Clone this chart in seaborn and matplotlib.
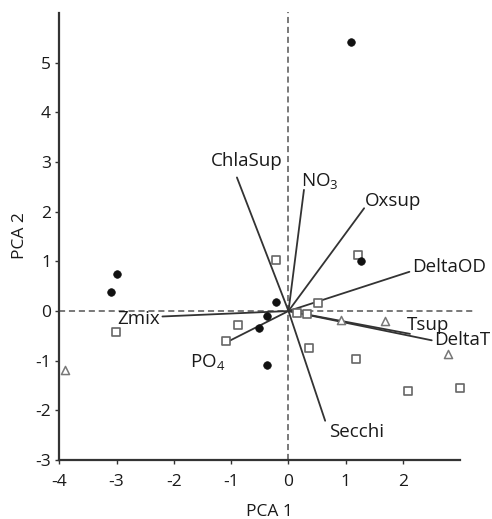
import numpy as np
import pandas as pd
import seaborn as sns
import matplotlib.pyplot as plt

# sample scores
circle_x = [1.09, 1.27, -0.21, -0.38, -0.52, -0.38, -2.99, -3.10]
circle_y = [5.42, 1.00, 0.19, -0.10, -0.34, -1.09, 0.75, 0.39]

square_x = [-0.21, 1.22, 0.52, 0.14, 0.33, 0.35, 1.18, 2.08, 3.00, -3.01, -0.88, -1.09]
square_y = [1.03, 1.12, 0.17, -0.04, -0.07, -0.74, -0.97, -1.62, -1.55, -0.42, -0.28, -0.60]

tri_x = [-3.90, 0.91, 1.69, 2.79]
tri_y = [-1.19, -0.19, -0.20, -0.87]

# variable loadings (arrow tips)
var_names = ['ChlaSup', 'NO$_3$', 'Oxsup', 'DeltaOD', 'Tsup', 'DeltaT', 'Secchi', 'Zmix', 'PO$_4$']
var_x = [-0.90, 0.27, 1.32, 2.11, 2.12, 2.50, 0.64, -2.20, -1.15]
var_y = [2.69, 2.44, 2.07, 0.79, -0.46, -0.59, -2.21, -0.11, -0.67]

# label placement: (dx px, dy px, ha, va)
label_pos = {
    'ChlaSup': (10, 7, 'center', 'bottom'),
    'NO$_3$': (-3, -1, 'left', 'bottom'),
    'Oxsup': (1, -2, 'left', 'bottom'),
    'DeltaOD': (3, 5, 'left', 'center'),
    'Tsup': (-3, 0, 'left', 'bottom'),
    'DeltaT': (2, 0, 'left', 'center'),
    'Secchi': (4, -2, 'left', 'top'),
    'Zmix': (-2, -3, 'right', 'center'),
    'PO$_4$': (3, -8, 'right', 'top'),
}

sns.set_style('ticks')
plt.rcParams['font.family'] = ['Open Sans', 'DejaVu Sans']
plt.rcParams['mathtext.default'] = 'regular'
plt.rcParams['axes.unicode_minus'] = False

fig = plt.figure(figsize=(4.92, 5.19), dpi=100)
ax = fig.add_axes([0.1205, 0.1137, 0.856, 0.863])

dark = '#333333'

# dashed reference lines through the origin
ax.plot([-4, 3.28], [0, 0], ls=(0, (4, 2.5)), color='#555555', lw=1.1, zorder=1)
ax.plot([0, 0], [-3, 6.05], ls=(0, (4, 2.5)), color='#555555', lw=1.1, zorder=1)

# loading vectors
for name, vx, vy in zip(var_names, var_x, var_y):
    ax.plot([0, vx], [0, vy], color=dark, lw=1.3, zorder=2)
    dx, dy, ha, va = label_pos[name]
    ax.annotate(name, (vx, vy), xytext=(dx, dy), textcoords='offset pixels',
                ha=ha, va=va, fontsize=13.5, color='#1a1a1a')

# samples
sns.scatterplot(x=square_x, y=square_y, marker='s', s=38, facecolor='white',
                edgecolor='#666666', linewidth=1.2, ax=ax, zorder=3)
sns.scatterplot(x=tri_x, y=tri_y, marker='^', s=34, facecolor='white',
                edgecolor='#777777', linewidth=1.1, ax=ax, zorder=3)
sns.scatterplot(x=circle_x, y=circle_y, marker='o', s=30, color='#111111',
                edgecolor='#111111', linewidth=0.5, ax=ax, zorder=4)

ax.set_xlim(-4, 3.35)
ax.set_ylim(-3, 6.02)
ax.set_xticks([-4, -3, -2, -1, 0, 1, 2])
ax.set_yticks([-3, -2, -1, 0, 1, 2, 3, 4, 5])
sns.despine(ax=ax)
ax.spines['bottom'].set_bounds(-4, 3)
ax.spines['left'].set_bounds(-3, 6)
for s in ['left', 'bottom']:
    ax.spines[s].set_linewidth(1.6)
    ax.spines[s].set_color(dark)
ax.tick_params(length=3, width=1, color=dark, labelsize=12.5, labelcolor='#1a1a1a', pad=3)
ax.tick_params(axis='x', pad=7)

ax.set_xlabel('PCA 1', fontsize=12.5, color='#1a1a1a', labelpad=10)
ax.set_ylabel('PCA 2', fontsize=12.5, color='#1a1a1a', labelpad=5)

fig.savefig('out.png', dpi=100)
